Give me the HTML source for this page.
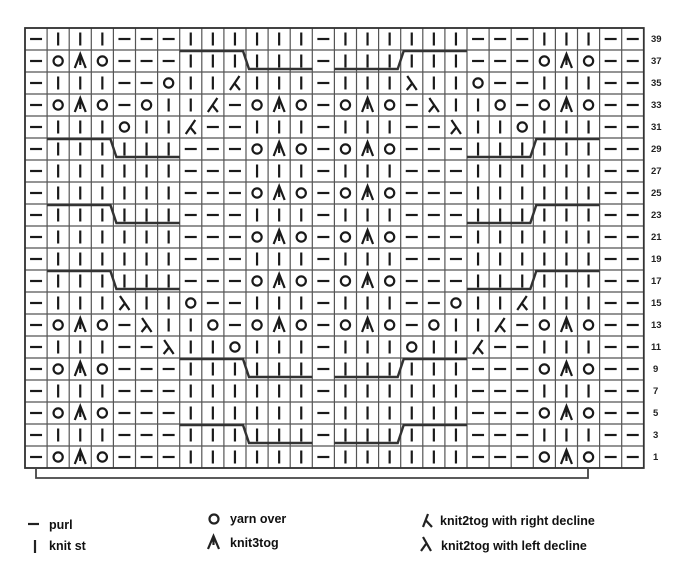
<!DOCTYPE html>
<html><head><meta charset="utf-8"><style>
html,body{margin:0;padding:0;background:#fff;width:688px;height:587px;overflow:hidden}
svg{display:block}
.t{font-family:"Liberation Sans",sans-serif;font-weight:bold;font-size:12.5px;fill:#111}
.n{font-family:"Liberation Sans",sans-serif;font-weight:bold;font-size:9.5px;fill:#222}
</style></head><body>
<svg id="s" width="688" height="587" xmlns="http://www.w3.org/2000/svg">
<g id="g"></g>
<text class="n" x="651" y="42">39</text>
<text class="n" x="651" y="64">37</text>
<text class="n" x="651" y="86">35</text>
<text class="n" x="651" y="108">33</text>
<text class="n" x="651" y="130">31</text>
<text class="n" x="651" y="152">29</text>
<text class="n" x="651" y="174">27</text>
<text class="n" x="651" y="196">25</text>
<text class="n" x="651" y="218">23</text>
<text class="n" x="651" y="240">21</text>
<text class="n" x="651" y="262">19</text>
<text class="n" x="651" y="284">17</text>
<text class="n" x="651" y="306">15</text>
<text class="n" x="651" y="328">13</text>
<text class="n" x="651" y="350">11</text>
<text class="n" x="653" y="372">9</text>
<text class="n" x="653" y="394">7</text>
<text class="n" x="653" y="416">5</text>
<text class="n" x="653" y="438">3</text>
<text class="n" x="653" y="460">1</text>
<g stroke="#222" stroke-width="2.2" fill="none" stroke-linecap="butt">
<line x1="28" y1="524" x2="39" y2="524"/>
<line x1="35" y1="540" x2="35" y2="553"/>
<circle cx="214" cy="519" r="4.5"/>
<path d="M208,549 L213.5,536 L219,549 M213.5,536 L213.5,545"/>
<path d="M423,527 L428,514 M425.5,520 L432,527"/>
<path d="M422,551 L428,538 M425,544.5 L432,551 M422,538 L428,538" stroke-width="0"/>
<path d="M421,551 L426,544 M423,537 L431,551"/>
</g>
<text class="t" x="49" y="529">purl</text>
<text class="t" x="49" y="550">knit st</text>
<text class="t" x="230" y="523">yarn over</text>
<text class="t" x="230" y="547">knit3tog</text>
<text class="t" x="440" y="525">knit2tog with right decline</text>
<text class="t" x="441" y="550">knit2tog with left decline</text>
</svg>
<script>
var rows=[
"PKKKPPPKKKKKKPKKKKKKPPPKKKPP",
"POAOPPPKKKKKKPKKKKKKPPPOAOPP",
"PKKKPPOKKRKKKPKKKLKKOPPKKKPP",
"POAOPOKKRPOAOPOAOPLKKOPOAOPP",
"PKKKOKKRPPKKKPKKKPPLKKOKKKPP",
"PKKKKKKPPPOAOPOAOPPPKKKKKKPP",
"PKKKKKKPPPKKKPKKKPPPKKKKKKPP",
"PKKKKKKPPPOAOPOAOPPPKKKKKKPP",
"PKKKKKKPPPKKKPKKKPPPKKKKKKPP",
"PKKKKKKPPPOAOPOAOPPPKKKKKKPP",
"PKKKKKKPPPKKKPKKKPPPKKKKKKPP",
"PKKKKKKPPPOAOPOAOPPPKKKKKKPP",
"PKKKLKKOPPKKKPKKKPPOKKRKKKPP",
"POAOPLKKOPOAOPOAOPOKKRPOAOPP",
"PKKKPPLKKOKKKPKKKOKKRPPKKKPP",
"POAOPPPKKKKKKPKKKKKKPPPOAOPP",
"PKKKPPPKKKKKKPKKKKKKPPPKKKPP",
"POAOPPPKKKKKKPKKKKKKPPPOAOPP",
"PKKKPPPKKKKKKPKKKKKKPPPKKKPP",
"POAOPPPKKKKKKPKKKKKKPPPOAOPP"];
var X0=25,Y0=28,W=22.1,H=22,s="";
for(var c=0;c<=28;c++){var x=X0+c*W;s+='<line x1="'+x+'" y1="'+Y0+'" x2="'+x+'" y2="'+(Y0+20*H)+'" stroke="#555" stroke-width="1.2"/>';}
for(var r=0;r<=20;r++){var y=Y0+r*H;s+='<line x1="'+X0+'" y1="'+y+'" x2="'+(X0+28*W)+'" y2="'+y+'" stroke="#555" stroke-width="1.2"/>';}
s+='<rect x="'+X0+'" y="'+Y0+'" width="'+(28*W)+'" height="'+(20*H)+'" fill="none" stroke="#333" stroke-width="1.8"/>';
s+='<g stroke="#1a1a1a" stroke-width="2.2" fill="none">';
for(r=0;r<20;r++)for(c=0;c<28;c++){
 var cx=X0+c*W+W/2,cy=Y0+r*H+H/2,k=rows[r][c];
 if(k=="P")s+='<line x1="'+(cx-6)+'" y1="'+cy+'" x2="'+(cx+6)+'" y2="'+cy+'"/>';
 else if(k=="K")s+='<line x1="'+cx+'" y1="'+(cy-6.5)+'" x2="'+cx+'" y2="'+(cy+6.5)+'"/>';
 else if(k=="O")s+='<circle cx="'+cx+'" cy="'+cy+'" r="4.6"/>';
 else if(k=="A")s+='<path d="M'+(cx-5.5)+','+(cy+7)+' L'+cx+','+(cy-7)+' L'+(cx+5.5)+','+(cy+7)+' M'+cx+','+(cy-7)+' L'+cx+','+(cy+4)+'"/>';
 else if(k=="L")s+='<path d="M'+(cx-4.5)+','+(cy-7)+' L'+(cx+5)+','+(cy+7)+' M'+(cx+0.3)+','+(cy+0.5)+' L'+(cx-5)+','+(cy+7)+'"/>';
 else if(k=="R")s+='<path d="M'+(cx+4.5)+','+(cy-7)+' L'+(cx-5)+','+(cy+7)+' M'+(cx-0.3)+','+(cy+0.5)+' L'+(cx+5)+','+(cy+7)+'"/>';
}
s+='</g><g stroke="#333" stroke-width="2.4" fill="none">';
function cs(n){return X0+(n-1)*W;}
function topC(r){var yt=Y0+r*H+1,yb=Y0+(r+1)*H-3;
 s+='<path d="M'+cs(8)+','+yt+' L'+(cs(11)-3)+','+yt+' L'+(cs(11)+3)+','+yb+' L'+cs(14)+','+yb+'"/>';
 s+='<path d="M'+cs(15)+','+yb+' L'+(cs(18)-3)+','+yb+' L'+(cs(18)+3)+','+yt+' L'+cs(21)+','+yt+'"/>';}
function side(r){var yt=Y0+r*H+1,yb=Y0+(r+1)*H-3;
 s+='<path d="M'+cs(2)+','+yt+' L'+(cs(5)-3)+','+yt+' L'+(cs(5)+3)+','+yb+' L'+cs(8)+','+yb+'"/>';
 s+='<path d="M'+cs(21)+','+yb+' L'+(cs(24)-3)+','+yb+' L'+(cs(24)+3)+','+yt+' L'+cs(27)+','+yt+'"/>';}
topC(1);topC(15);topC(18);side(5);side(8);side(11);
s+='</g><path d="M36,469 L36,478 L588,478 L588,469" stroke="#444" stroke-width="1.8" fill="none"/>';
document.getElementById("g").innerHTML=s;
</script>
</body></html>
